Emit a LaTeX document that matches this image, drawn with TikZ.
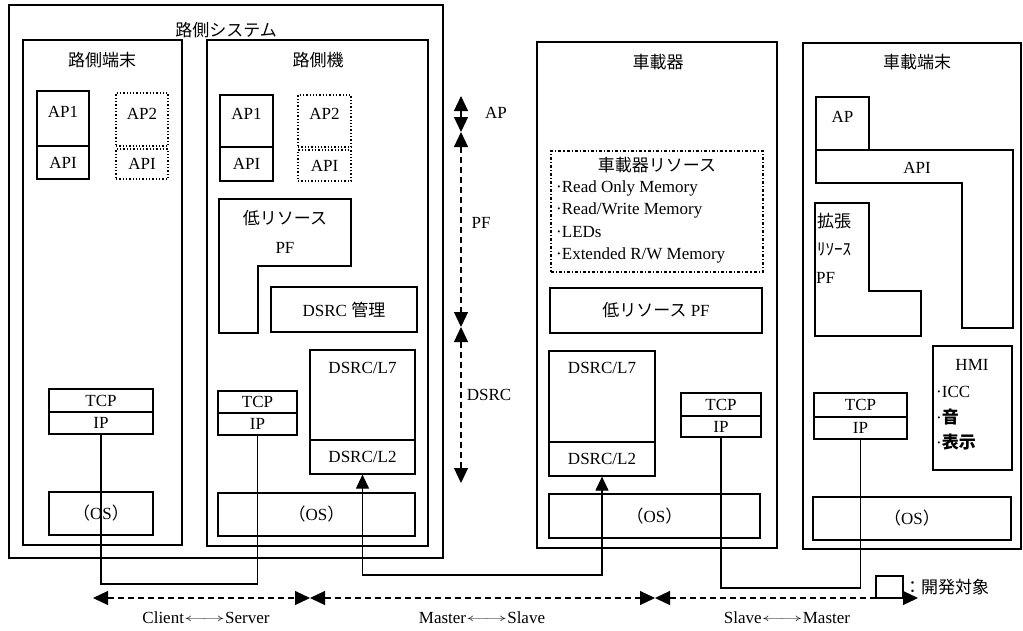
\documentclass[tikz,border=0pt]{standalone}
\usepackage{fontspec}
\setmainfont{Liberation Serif}
\newfontfamily\jpf{Noto Sans CJK JP}
\usetikzlibrary{arrows.meta,fit}
\newcommand\rbox[7][box]{\node[#1, fit={(#3,#4)(#5,#6)}, inner sep=0pt] (#2) {};
  \node[lbl] (#2T) at (#2.center) {#7};}
\newcommand\lra{\raisebox{0.3ex}{\scalebox{1.3}[0.6]{$\longleftrightarrow$}}}
\newcommand\osl{{\jpf （}OS{\jpf ）}}
\begin{document}
\begin{tikzpicture}[x=1pt,y=-1pt,
  font=\fontsize{17}{20}\selectfont,
  frame/.style={draw, line width=2.6pt},
  box/.style={draw, line width=1.2pt},
  dotbox/.style={draw, line width=1.3pt, dotted},
  ddbox/.style={draw, line width=1.1pt, dash dot},
  wire/.style={line width=1.1pt},
  dimarrow/.style={line width=1.2pt, dash pattern=on 6pt off 4pt, {Triangle[width=14pt,length=15pt]}-{Triangle[width=14pt,length=15pt]}},
  lbl/.style={inner sep=0pt}
]
\useasboundingbox (0,0) rectangle (1023,630);

% main frames
\rbox[frame]{sys}{9}{5}{443}{558}{}
\rbox[frame]{rt}{23}{40}{182}{545}{}
\rbox[frame]{rk}{207}{40}{428}{546}{}
\rbox[frame]{vk}{537}{42}{777}{548}{}
\rbox[frame]{vt}{803}{43}{1021}{549}{}
\node[lbl, fill=white, inner xsep=2pt] (sysL) at (226,30) {\jpf 路側システム};
\node[lbl] (rtL) at (102,60) {\jpf 路側端末};
\node[lbl] (rkL) at (318,60) {\jpf 路側機};
\node[lbl] (vkL) at (658,62) {\jpf 車載器};
\node[lbl] (vtL) at (917,62) {\jpf 車載端末};

% 路側端末
\rbox{rtap1}{37}{91}{89}{146}{}
\node[lbl] (rtap1L) at (63,112) {AP1};
\rbox{rtapi1}{37}{146}{89}{179}{API}
\rbox[dotbox]{rtap2}{116}{93}{168}{146}{}
\node[lbl] (rtap2L) at (142,114) {AP2};
\rbox[dotbox]{rtapi2}{116}{149}{168}{179}{API}
\rbox{rttcp}{49}{389}{153}{412}{TCP}
\rbox{rtip}{49}{412}{153}{434}{IP}
\rbox{rtos}{49}{492}{153}{535}{\osl}

% 路側機
\rbox{rkap1}{220}{95}{273}{147}{}
\node[lbl] (rkap1L) at (246.5,114) {AP1};
\rbox{rkapi1}{220}{147}{273}{181}{API}
\rbox[dotbox]{rkap2}{298}{95}{351}{147}{}
\node[lbl] (rkap2L) at (324.5,114) {AP2};
\rbox[dotbox]{rkapi2}{298}{150}{351}{181}{API}
\draw[box] (219,199) -- (351,199) -- (351,266) -- (258,266) -- (258,333) -- (219,333) -- cycle;
\node[lbl] (rkpfL1) at (285,218) {\jpf 低リソース};
\node[lbl] (rkpfL2) at (285,248) {PF};
\rbox{rkdm}{271}{287}{417}{332}{DSRC {\jpf 管理}}
\rbox{rkl7}{310}{350}{415}{440}{}
\node[lbl] (rkl7L) at (362.5,368) {DSRC/L7};
\rbox{rkl2}{310}{440}{415}{474}{DSRC/L2}
\rbox{rktcp}{218}{391}{297}{413}{TCP}
\rbox{rkip}{218}{413}{297}{435}{IP}
\rbox{rkos}{218}{493}{415}{536}{\osl}

% 車載器
\rbox[ddbox]{vkres}{551}{151}{763}{272}{}
\node[lbl] (vkresL) at (657,165) {\jpf 車載器リソース};
\node[lbl, anchor=west] (m1) at (556,188) {·Read Only Memory};
\node[lbl, anchor=west] (m2) at (556,210) {·Read/Write Memory};
\node[lbl, anchor=west] (m3) at (556,232) {·LEDs};
\node[lbl, anchor=west] (m4) at (556,255) {·Extended R/W Memory};
\rbox{vkpf}{550}{288}{762}{333}{{\jpf 低リソース} PF}
\rbox{vkl7}{549}{351}{655}{442}{}
\node[lbl] (vkl7L) at (602,368) {DSRC/L7};
\rbox{vkl2}{549}{442}{655}{476}{DSRC/L2}
\rbox{vktcp}{681}{393}{761}{416}{TCP}
\rbox{vkip}{681}{416}{761}{437}{IP}
\rbox{vkos}{549}{494}{760}{538}{\osl}

% 車載端末
\rbox{vtap}{816}{97}{869}{150}{}
\node[lbl] (vtapL) at (842.5,117) {AP};
\draw[box] (816,150) -- (1013,150) -- (1013,328) -- (962,328) -- (962,183) -- (816,183) -- cycle;
\node[lbl] (vtapiL) at (917,168) {API};
\draw[box] (815,203) -- (869,203) -- (869,291) -- (921,291) -- (921,336) -- (815,336) -- cycle;
\node[lbl, anchor=west] (vtx1) at (817,221) {\jpf 拡張};
\node[lbl, anchor=west] (vtx2) at (817,249) {\jpf ﾘｿｰｽ};
\node[lbl, anchor=west] (vtx3) at (816,278) {PF};
\rbox{vthmi}{933}{346}{1012}{470}{}
\node[lbl] (hmiL) at (972,365) {HMI};
\node[lbl, anchor=west] (h1) at (936,392) {·ICC};
\node[lbl, anchor=west] (h2) at (936,417) {·{\jpf\bfseries 音}};
\node[lbl, anchor=west] (h3) at (936,442) {·{\jpf\bfseries 表示}};
\rbox{vttcp}{814}{393}{907}{417}{TCP}
\rbox{vtip}{814}{417}{907}{439}{IP}
\rbox{vtos}{813}{497}{1011}{540}{\osl}

% connectors
\coordinate (csy) at (0,584);
\coordinate (dsy) at (0,575);
\coordinate (smy) at (0,588);
\draw[wire] (rtip.south) -- (rtip.south |- csy) -- (rkip.south |- csy) -- (rkip.south);
\draw[wire, {Triangle[width=13pt,length=14pt]}-{Triangle[width=13pt,length=14pt]}]
  (rkl2.south) -- (rkl2.south |- dsy) -- (vkl2.south |- dsy) -- (vkl2.south);
\draw[wire] (vkip.south) -- (vkip.south |- smy) -- (vtip.south |- smy) -- (vtip.south);

% vertical layer arrows
\coordinate (va) at (461,96);
\coordinate (vb) at (461,132);
\coordinate (vc) at (461,327);
\coordinate (vd) at (461,483);
\draw[dimarrow] (va) -- (vb);
\draw[dimarrow] (vb) -- (vc);
\draw[dimarrow] (vc) -- (vd);
\node[lbl] (apL) at (496,113) {AP};
\node[lbl] (pfL) at (481,223) {PF};
\node[lbl] (dsL) at (489,395) {DSRC};

% horizontal relation arrows
\coordinate (ha) at (93,598);
\coordinate (hb) at (310,598);
\coordinate (hc) at (655,598);
\coordinate (hd) at (918,598);
\draw[dimarrow] (ha) -- (hb);
\draw[dimarrow] (hb) -- (hc);
\draw[dimarrow] (hc) -- (hd);
\node[lbl] (csL) at (206,618) {Client\lra Server};
\node[lbl] (msL) at (482,618) {Master\lra Slave};
\node[lbl] (smL) at (787,618) {Slave\lra Master};

% legend
\rbox{leg}{876}{576}{903}{598}{}
\node[lbl, anchor=west] (legL) at (904,587) {\jpf ：開発対象};
\end{tikzpicture}
\end{document}
